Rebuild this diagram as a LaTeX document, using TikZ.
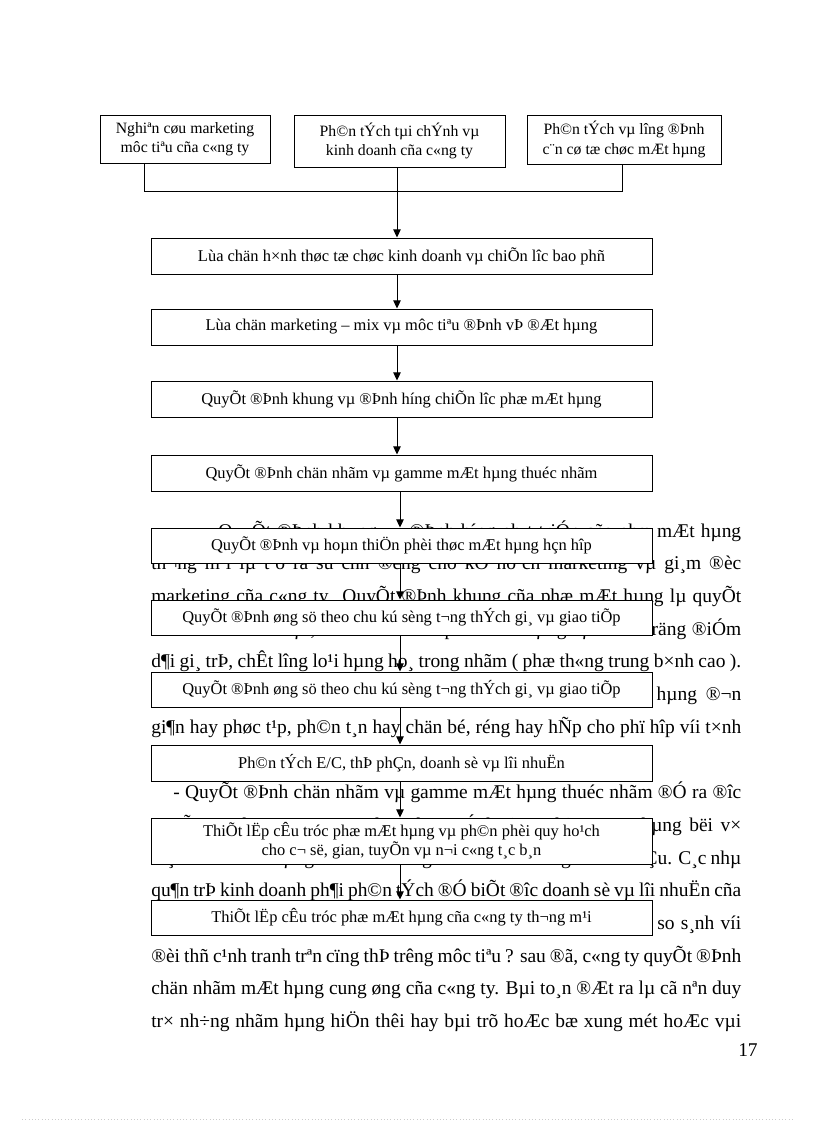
\documentclass[tikz,border=0pt]{standalone}
\usepackage{fontspec}
\setmainfont{Liberation Serif}
\usetikzlibrary{arrows.meta}

\newcommand{\bodytext}{\fontsize{14.2pt}{16pt}\selectfont}
\newcommand{\boxtext}{\fontsize{12pt}{14pt}\selectfont}
\newcommand{\toptext}{\fontsize{11.5pt}{14pt}\selectfont}
\newcommand{\fullline}[1]{\makebox[430.4pt][s]{#1}}

\begin{document}
\begin{tikzpicture}[x=0.7295pt, y=-0.7295pt, font=\bodytext,
  line/.style={anchor=base west, inner sep=0pt},
  flowbox/.style 2 args={draw, line width=0.7pt, fill=white, font=\boxtext, align=center,
    inner sep=0pt, minimum width=#1*0.7295pt, minimum height=#2*0.7295pt},
  arr/.style={line width=0.7pt, -{Triangle[length=6pt, width=5.5pt]}}]
  \useasboundingbox (0,0) rectangle (816,1123);

  % body text of the page
  \node[line] (l1) at (218,537) {\makebox[381.5pt][s]{QuyÕt ®Þnh khung vµ ®Þnh híng ph¸t triÓn cña phæ mÆt hµng}};
  \node[line] (l2) at (151,569.7) {\fullline{th¬ng m¹i lµ t¹o ra sù chñ ®éng cho kÕ ho¹ch marketing vµ gi¸m ®èc}};
  \node[line] (l3) at (151,602.4) {\fullline{marketing cña c«ng ty. QuyÕt ®Þnh khung cña phæ mÆt hµng lµ quyÕt}};
  \node[line] (l4) at (151,635.1) {\fullline{®Þnh vÒ chiÒu dµi, chiÒu s©u cña phæ mÆt hµng vµ chiÒu räng ®iÓm}};
  \node[line] (l5) at (151,667.8) {\fullline{d¶i gi¸ trÞ, chÊt lîng lo¹i hµng ho¸ trong nhãm ( phæ th«ng trung b×nh cao ).}};
  \node[line] (l6) at (151,700.5) {\fullline{Trêng hîp nµy c«ng ty ph¶i quyÕt ®Þnh c¬ cÊu phæ mÆt hµng ®¬n}};
  \node[line] (l7) at (151,733.2) {\fullline{gi¶n hay phøc t¹p, ph©n t¸n hay chän bé, réng hay hÑp cho phï hîp víi t×nh}};
  \node[line] (l8) at (151,765.9) {thÕ cña c«ng ty.};
  \node[line] (l9) at (173,798.6) {\makebox[414.4pt][s]{- QuyÕt ®Þnh chän nhãm vµ gamme mÆt hµng thuéc nhãm ®Ó ra ®îc}};
  \node[line] (l10) at (151,831.3) {\fullline{quyÕt ®Þnh nµy c«ng ty ph¶i ph©n tÝch tõng nhãm mÆt hµng bëi v×}};
  \node[line] (l11) at (151,864) {\fullline{mçi nhãm mÆt hµng ®Òu cã nh÷ng ®Æc ®iÓm riªng vÒ nhu cÇu. C¸c nhµ}};
  \node[line] (l12) at (151,896.7) {\fullline{qu¶n trÞ kinh doanh ph¶i ph©n tÝch ®Ó biÕt ®îc doanh sè vµ lîi nhuËn cña}};
  \node[line] (l13) at (151,929.4) {\fullline{mçi nhãm mÆt hµng vµ vÞ trÝ cña tõng nhãm mÆt hµng ®ã so s¸nh víi}};
  \node[line] (l14) at (151,962.1) {\fullline{®èi thñ c¹nh tranh trªn cïng thÞ trêng môc tiªu ? sau ®ã, c«ng ty quyÕt ®Þnh}};
  \node[line] (l15) at (151,994.8) {\fullline{chän nhãm mÆt hµng cung øng cña c«ng ty. Bµi to¸n ®Æt ra lµ cã nªn duy}};
  \node[line] (l16) at (151,1027.5) {\fullline{tr× nh÷ng nhãm hµng hiÖn thêi hay bµi trõ hoÆc bæ xung mét hoÆc vµi}};
  \node[anchor=base east, inner sep=0pt] (pg) at (758,1056) {17};

  % the three starting boxes
  \node[flowbox={170}{48}, font=\toptext] (nc) at (185,139) {Nghiªn cøu marketing\\môc tiªu cña c«ng ty};
  \node[flowbox={211}{52}, font=\toptext] (pt) at (399.5,141) {Ph©n tÝch tµi chÝnh vµ\\kinh doanh cña c«ng ty};
  \node[flowbox={194}{49}, font=\toptext] (lg) at (624,139.5) {Ph©n tÝch vµ lîng ®Þnh\\c¨n cø tæ chøc mÆt hµng};

  % the chain of steps
  \node[flowbox={501}{36}] (s1) at (401.5,256) {Lùa chän h×nh thøc tæ chøc kinh doanh vµ chiÕn lîc bao phñ};
  \node[flowbox={501}{36}] (s2) at (401.5,327) {Lùa chän marketing – mix vµ môc tiªu ®Þnh vÞ ®Æt hµng};
  \node[flowbox={501}{36}] (s3) at (401.5,399) {QuyÕt ®Þnh khung vµ ®Þnh híng chiÕn lîc phæ mÆt hµng};
  \node[flowbox={501}{36}] (s4) at (401.5,473) {QuyÕt ®Þnh chän nhãm vµ gamme mÆt hµng thuéc nhãm};
  \node[flowbox={501}{35}] (s5) at (401.5,545.5) {QuyÕt ®Þnh vµ hoµn thiÖn phèi thøc mÆt hµng hçn hîp};
  \node[flowbox={501}{35}] (s6) at (401.5,617.5) {QuyÕt ®Þnh øng sö theo chu kú sèng t¬ng thÝch gi¸ vµ giao tiÕp};
  \node[flowbox={501}{35}] (s7) at (401.5,689.5) {QuyÕt ®Þnh øng sö theo chu kú sèng t¬ng thÝch gi¸ vµ giao tiÕp};
  \node[flowbox={501}{36}] (s8) at (401.5,763) {Ph©n tÝch E/C, thÞ phÇn, doanh sè vµ lîi nhuËn};
  \node[flowbox={501}{46}] (s9) at (401.5,841) {ThiÕt lËp cÊu tróc phæ mÆt hµng vµ ph©n phèi quy ho¹ch\\cho c¬ së, gian, tuyÕn vµ n¬i c«ng t¸c b¸n};
  \node[flowbox={501}{35}] (s10) at (401.5,917.5) {ThiÕt lËp cÊu tróc phæ mÆt hµng cña c«ng ty th¬ng m¹i};

  % joining bracket under the top row
  \coordinate (jl) at (144,191);
  \coordinate (jm) at (397,191);
  \coordinate (jr) at (622,191);
  \coordinate (dn) at (400,0);
  \draw[line width=0.7pt] (nc.south -| jl) -- (jl) -- (jr) -- (lg.south -| jr);
  \draw[line width=0.7pt] (pt.south -| jm) -- (jm);
  \draw[arr] (jm) -- (s1.north -| jm);
  \draw[arr] (s1.south -| jm) -- (s2.north -| jm);
  \draw[arr] (s2.south -| jm) -- (s3.north -| jm);
  \draw[arr] (s3.south -| jm) -- (s4.north -| jm);
  \draw[arr] (s4.south -| dn) -- (s5.north -| dn);
  \draw[arr] (s5.south -| dn) -- (s6.north -| dn);
  \draw[arr] (s6.south -| dn) -- (s7.north -| dn);
  \draw[arr] (s7.south -| dn) -- (s8.north -| dn);
  \draw[arr] (s8.south -| dn) -- (s9.north -| dn);
  \draw[arr] (s9.south -| dn) -- (s10.north -| dn);

  % faint rule at the foot of the page
  \draw[gray!40, dotted] (22,1119) -- (794,1119);
\end{tikzpicture}
\end{document}
